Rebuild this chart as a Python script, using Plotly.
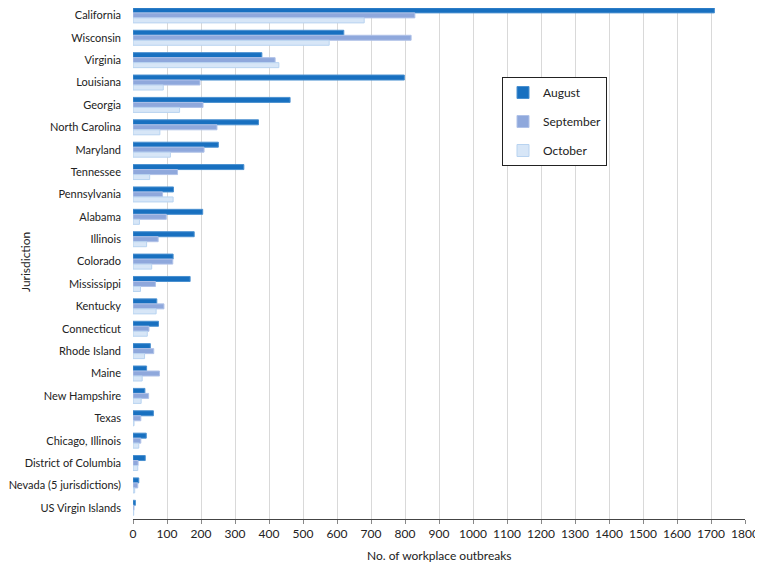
import plotly.graph_objects as go

jurisdictions = ["California", "Wisconsin", "Virginia", "Louisiana", "Georgia", "North Carolina",
                 "Maryland", "Tennessee", "Pennsylvania", "Alabama", "Illinois", "Colorado",
                 "Mississippi", "Kentucky", "Connecticut", "Rhode Island", "Maine", "New Hampshire",
                 "Texas", "Chicago, Illinois", "District of Columbia", "Nevada (5 jurisdictions)",
                 "US Virgin Islands"]
august = [1710, 620, 379, 798, 462, 369, 251, 326, 119, 205, 180, 118, 168, 70, 75, 51, 40, 35, 60, 39, 36, 17, 7]
september = [829, 818, 418, 197, 206, 247, 209, 131, 87, 98, 74, 117, 66, 91, 47, 61, 78, 46, 23, 23, 15, 14, 3]
october = [680, 577, 429, 89, 137, 79, 110, 49, 118, 19, 40, 55, 22, 68, 42, 34, 27, 24, 3, 17, 14, 5, 2]
x_ticks = list(range(0, 1801, 100))

series = [("August", august, "#1870c0", "#4a90d0"),
          ("September", september, "#8fa8dc", "#b0c2e8"),
          ("October", october, "#d7e6f7", "#b8d3f0")]

# page body has an 8px margin: figure occupies (8..763, 8..563)
PLOT_L, PLOT_R, PLOT_T, PLOT_B = 133, 745, 8, 519
W, H = 755, 555
plot_w = PLOT_R - PLOT_L
plot_h = PLOT_B - PLOT_T

fig = go.Figure()
for name, vals, col, line in series:
    fig.add_trace(go.Bar(y=jurisdictions, x=vals, name=name, orientation="h",
                         marker=dict(color=col, line=dict(color=line, width=1)),
                         legendgroup=name))

fig.update_layout(
    width=W, height=H,
    margin=dict(l=PLOT_L - 8, r=763 - PLOT_R, t=0, b=563 - PLOT_B, autoexpand=False),
    paper_bgcolor="white", plot_bgcolor="white",
    barmode="group", bargap=0.33, bargroupgap=0,
    font=dict(family="Lato, 'Open Sans', sans-serif", size=12, color="#222222"),
    legend=dict(x=(502 - PLOT_L) / plot_w, y=1 - (77 - PLOT_T) / plot_h,
                xanchor="left", yanchor="top",
                bordercolor="#222222", borderwidth=1, bgcolor="white",
                font=dict(size=12), tracegroupgap=10, traceorder="grouped",
                itemwidth=30),
    showlegend=True,
    annotations=[
        dict(text="No. of workplace outbreaks", xref="paper", yref="paper",
             x=0.5, y=-(555 - PLOT_B) / plot_h, xanchor="center", yanchor="middle",
             showarrow=False, font=dict(size=12)),
        dict(text="Jurisdiction", xref="paper", yref="paper",
             x=(25 - PLOT_L) / plot_w, y=1 - (262 - PLOT_T) / plot_h,
             xanchor="center", yanchor="middle",
             showarrow=False, textangle=-90, font=dict(size=12)),
    ],
)
fig.update_xaxes(range=[0, 1800], tickvals=x_ticks, showgrid=True, gridcolor="#d9d9d9",
                 gridwidth=1, zeroline=False, showline=True, linecolor="#444444",
                 ticks="outside", ticklen=4, tickcolor="#888888", automargin=False,
                 tickfont=dict(size=12))
fig.update_yaxes(range=[22.5, -0.33], showgrid=False, zeroline=False, showline=False,
                 ticks="", automargin=False, ticklabelstandoff=11,
                 tickfont=dict(size=11))

fig.write_html("out.html")
